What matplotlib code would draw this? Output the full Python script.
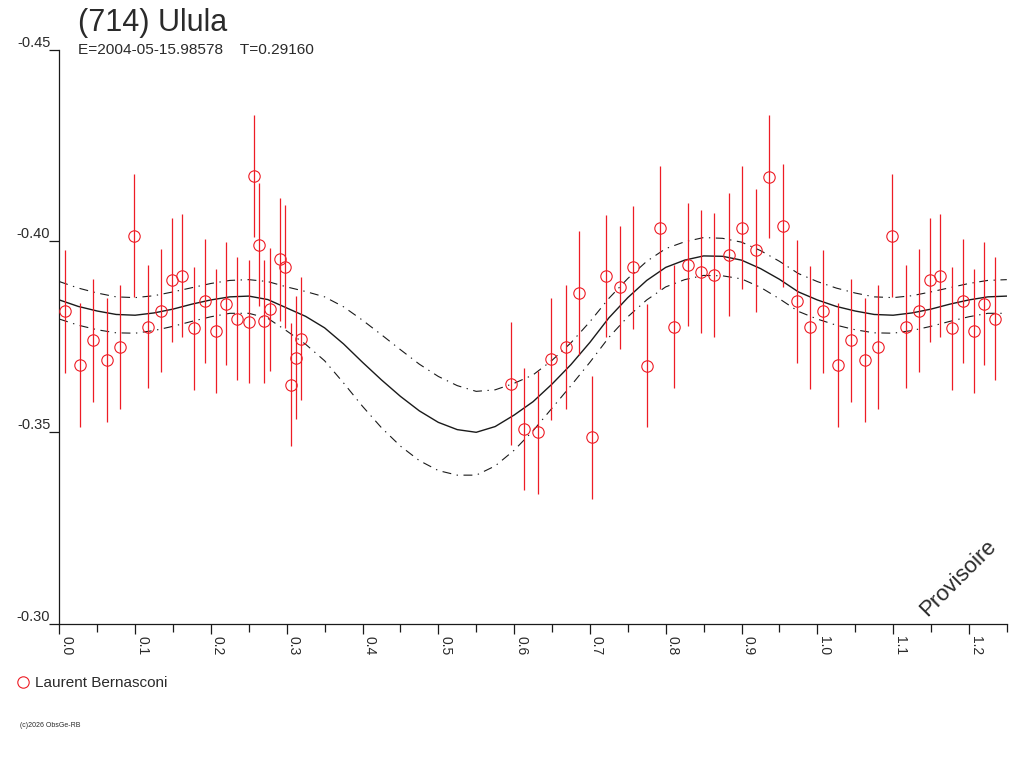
import matplotlib
matplotlib.use("Agg")
import matplotlib.pyplot as plt
from matplotlib.lines import Line2D
from matplotlib.ticker import MultipleLocator, FixedLocator

plt.rcParams['font.family'] = ['Liberation Sans', 'DejaVu Sans']

# ---- data (phase, reduced magnitude, error) ----
obs_phase = [0.0079, 0.0273, 0.0449, 0.0625, 0.0801, 0.0989, 0.1170, 0.1346, 0.1483, 0.1623,
             0.1777, 0.1918, 0.2063, 0.2203, 0.2348, 0.2499, 0.2569, 0.2639, 0.2704, 0.2776,
             0.2912, 0.2982, 0.3053, 0.3119, 0.3193,
             0.5959, 0.6135, 0.6311, 0.6487, 0.6681, 0.6856, 0.7032, 0.7208, 0.7401, 0.7573,
             0.7749, 0.7929, 0.8113, 0.8290, 0.8470, 0.8641, 0.8835, 0.9011, 0.9187, 0.9363,
             0.9554, 0.9728, 0.9908]
obs_mag = [-0.3816, -0.3676, -0.3740, -0.3689, -0.3723, -0.4014, -0.3776, -0.3818, -0.3898, -0.3909,
           -0.3772, -0.3843, -0.3765, -0.3836, -0.3797, -0.3789, -0.4170, -0.3990, -0.3790, -0.3822,
           -0.3952, -0.3933, -0.3624, -0.3695, -0.3745,
           -0.3627, -0.3509, -0.3500, -0.3691, -0.3723, -0.3864, -0.3487, -0.3908, -0.3879, -0.3931,
           -0.3674, -0.4035, -0.3776, -0.3938, -0.3920, -0.3911, -0.3964, -0.4035, -0.3976, -0.4168,
           -0.4040, -0.3842, -0.3774]
obs_err = [0.0161, 0.0162, 0.0161, 0.0161, 0.0161, 0.0161, 0.0161, 0.0161, 0.0161, 0.0161,
           0.0161, 0.0161, 0.0161, 0.0161, 0.0161, 0.0161, 0.0160, 0.0161, 0.0161, 0.0161,
           0.0161, 0.0161, 0.0161, 0.0161, 0.0161,
           0.0160, 0.0160, 0.0161, 0.0160, 0.0161, 0.0161, 0.0161, 0.0160, 0.0160, 0.0160,
           0.0161, 0.0161, 0.0161, 0.0161, 0.0161, 0.0161, 0.0161, 0.0161, 0.0161, 0.0161,
           0.0161, 0.0161, 0.0161]

# ---- fitted curve and its envelopes, read every 0.025 in phase ----
fit_phase = [0.000, 0.025, 0.050, 0.075, 0.100, 0.125, 0.150, 0.175, 0.200, 0.225,
             0.250, 0.275, 0.300, 0.325, 0.350, 0.375, 0.400, 0.425, 0.450, 0.475,
             0.500, 0.525, 0.550, 0.575, 0.600, 0.625, 0.650, 0.675, 0.700, 0.725,
             0.750, 0.775, 0.800, 0.825, 0.850, 0.875, 0.900, 0.925, 0.950, 0.975, 1.000]
fit_mag = [-0.3846, -0.3829, -0.3817, -0.3808, -0.3806, -0.3812, -0.3822, -0.3835, -0.3846, -0.3854,
           -0.3856, -0.3847, -0.3825, -0.3803, -0.3773, -0.3731, -0.3683, -0.3637, -0.3594, -0.3556,
           -0.3526, -0.3507, -0.3500, -0.3515, -0.3545, -0.3580, -0.3626, -0.3677, -0.3735, -0.3799,
           -0.3852, -0.3897, -0.3931, -0.3950, -0.3961, -0.3960, -0.3950, -0.3928, -0.3900, -0.3867,
           -0.3846]
fit_upper = [-0.3894, -0.3877, -0.3864, -0.3854, -0.3852, -0.3857, -0.3867, -0.3878, -0.3889, -0.3897,
             -0.3899, -0.3894, -0.3880, -0.3868, -0.3854, -0.3828, -0.3793, -0.3755, -0.3716, -0.3678,
             -0.3646, -0.3622, -0.3607, -0.3611, -0.3628, -0.3650, -0.3688, -0.3734, -0.3789, -0.3850,
             -0.3902, -0.3947, -0.3980, -0.3998, -0.4009, -0.4007, -0.3997, -0.3975, -0.3947, -0.3915,
             -0.3894]
fit_lower = [-0.3796, -0.3780, -0.3768, -0.3760, -0.3759, -0.3766, -0.3777, -0.3790, -0.3802, -0.3811,
             -0.3811, -0.3798, -0.3765, -0.3730, -0.3687, -0.3629, -0.3568, -0.3512, -0.3464, -0.3426,
             -0.3400, -0.3388, -0.3388, -0.3412, -0.3453, -0.3504, -0.3563, -0.3622, -0.3683, -0.3748,
             -0.3802, -0.3846, -0.3880, -0.3899, -0.3910, -0.3909, -0.3901, -0.3879, -0.3849, -0.3816,
             -0.3796]

x_ticks = [0.0, 0.1, 0.2, 0.3, 0.4, 0.5, 0.6, 0.7, 0.8, 0.9, 1.0, 1.1, 1.2]
x_labels = ["0.0", "0.1", "0.2", "0.3", "0.4", "0.5", "0.6", "0.7", "0.8", "0.9", "1.0", "1.1", "1.2"]
y_ticks = [-0.45, -0.40, -0.35, -0.30]
y_labels = ["-0.45", "-0.40", "-0.35", "-0.30"]

title = "(714) Ulula"
subtitle = "E=2004-05-15.98578    T=0.29160"
observer = "Laurent Bernasconi"

XMAX = 1.25
RED = '#ee1c25'
INK = '#1a1a1a'
TXT = '#2a2a2a'

# ---- extend by one period (phase + 1) up to the right edge ----
px = list(obs_phase) + [p + 1 for p in obs_phase if p + 1 < 1.245]
pm = list(obs_mag) + [m for p, m in zip(obs_phase, obs_mag) if p + 1 < 1.245]
pe = list(obs_err) + [e for p, e in zip(obs_phase, obs_err) if p + 1 < 1.245]

cx = list(fit_phase) + [p + 1 for p in fit_phase[1:] if p + 1 <= XMAX + 1e-9]
n_ext = len(cx) - len(fit_phase)
cm = list(fit_mag) + fit_mag[1:1 + n_ext]
cu = list(fit_upper) + fit_upper[1:1 + n_ext]
cl = list(fit_lower) + fit_lower[1:1 + n_ext]

W, H = 1024, 768
fig = plt.figure(figsize=(W / 100, H / 100), dpi=100)
ax = fig.add_axes([59.3 / W, 1 - 623.6 / H, (1006.8 - 59.3) / W, (623.6 - 49.7) / H])

ax.plot(cx, cm, color=INK, lw=1.0)
ax.plot(cx, cu, color=INK, lw=0.8, linestyle=(0, (8, 5, 1.2, 5)))
ax.plot(cx, cl, color=INK, lw=0.8, linestyle=(0, (8, 5, 1.2, 5)))

ax.errorbar(px, pm, yerr=pe, fmt='none', ecolor=RED, elinewidth=0.9, capsize=0, zorder=3)
ax.plot(px, pm, linestyle='none', marker='o', markersize=8.2, markerfacecolor='none',
        markeredgecolor=RED, markeredgewidth=0.8, zorder=4)

ax.set_xlim(0, XMAX)
ax.set_ylim(-0.30, -0.45)

for s in ('top', 'right'):
    ax.spines[s].set_visible(False)
for s in ('left', 'bottom'):
    ax.spines[s].set_color(INK)
    ax.spines[s].set_linewidth(0.9)

ax.xaxis.set_major_locator(FixedLocator(x_ticks))
ax.set_xticklabels(x_labels)
ax.xaxis.set_minor_locator(MultipleLocator(0.05))
ax.set_yticks(y_ticks)
ax.set_yticklabels(y_labels)

ax.tick_params(axis='x', which='major', length=7, width=0.9, color=INK, pad=2,
               labelsize=10, labelcolor=TXT)
ax.tick_params(axis='x', which='minor', length=6, width=0.9, color=INK)
ax.tick_params(axis='y', length=7.5, width=0.9, color=INK, pad=-1,
               labelsize=10.5, labelcolor=TXT)

for lbl in ax.get_xticklabels():
    lbl.set_rotation(-90)
    lbl.set_horizontalalignment('left')
    lbl.set_verticalalignment('top')
for lbl in ax.get_yticklabels():
    lbl.set_verticalalignment('bottom')

fig.text(78 / W, 1 - 31 / H, title, fontsize=22, color=TXT, va='baseline')
fig.text(78 / W, 1 - 54 / H, subtitle, fontsize=11.1, color=TXT, va='baseline')

proxy = Line2D([], [], linestyle='none', marker='o', markersize=8.2, markerfacecolor='none',
               markeredgecolor=RED, markeredgewidth=0.8)
fig.legend(handles=[proxy], labels=[observer], loc='center left',
           bbox_to_anchor=(17 / W, 1 - 683 / H), frameon=False, handlelength=0.8,
           handletextpad=0.35, borderpad=0, borderaxespad=0, fontsize=11,
           labelcolor=TXT)

fig.text(20 / W, 1 - 727 / H, "(c)2026 ObsGe-RB", fontsize=5, color=TXT, va='baseline')
fig.text(958 / W, 1 - 578 / H, "Provisoire", fontsize=16, color=TXT, rotation=45,
         ha='center', va='center', rotation_mode='anchor')

fig.savefig("out.png", dpi=100)
